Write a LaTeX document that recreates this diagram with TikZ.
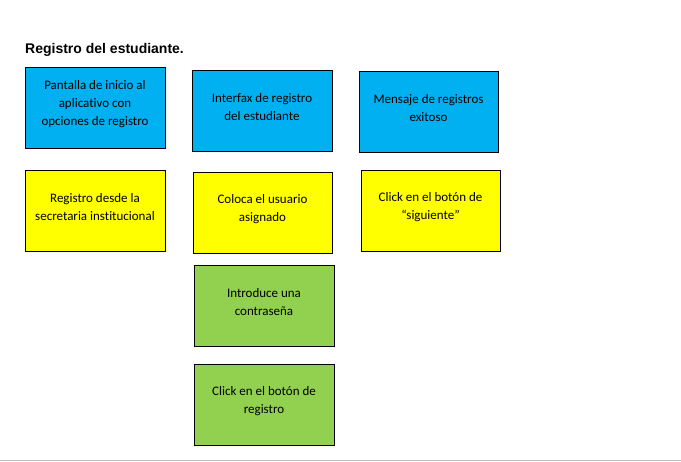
\documentclass[tikz,border=0pt]{standalone}
\usepackage{fontspec}
\setmainfont{Carlito}[Ligatures={NoCommon}]
\newfontfamily\titlefont{Liberation Sans}
\usepackage{tikz}
\definecolor{cblue}{RGB}{0, 176, 240}
\definecolor{cyellow}{RGB}{255, 255, 0}
\definecolor{cgreen}{RGB}{146, 208, 80}
\definecolor{cline}{RGB}{191, 191, 191}
\begin{document}
\begin{tikzpicture}[x=1pt, y=1pt,
  box/.style={rectangle, minimum width=140pt, minimum height=81pt, inner sep=0pt, line width=0.9pt, draw=black},
  boxtext/.style={align=center, yshift=3.5pt, font=\fontsize{13}{18}\selectfont},
  blue/.style={box, fill=cblue},
  yellow/.style={box, fill=cyellow},
  green/.style={box, fill=cgreen}]
\useasboundingbox (0, 0) rectangle (681, -462);
\node (title) [anchor=base west, inner sep=0pt, font=\titlefont\bfseries\fontsize{14}{16}\selectfont] at (25, -53.3) {Registro del estudiante.};
\node (inicio) [blue, label={[boxtext]center:Pantalla de inicio al\\aplicativo con\\opciones de registro}] at (95, -107.5) {};
\node (interfaz) [blue, label={[boxtext]center:Interfax de registro\\del estudiante}] at (262, -110.5) {};
\node (mensaje) [blue, minimum width=139pt, label={[boxtext]center:Mensaje de registros\\exitoso}] at (428.5, -111.5) {};
\node (secretaria) [yellow, label={[boxtext]center:Registro desde la\\secretaria institucional}] at (95, -210.5) {};
\node (usuario) [yellow, minimum width=139pt, label={[boxtext]center:Coloca el usuario\\asignado}] at (262.5, -212.5) {};
\node (siguiente) [yellow, minimum width=139pt, label={[boxtext]center:Click en el botón de\\“siguiente”}] at (430.5, -210.5) {};
\node (clave) [green, label={[boxtext]center:Introduce una\\contraseña}] at (264, -306) {};
\node (boton) [green, label={[boxtext]center:Click en el botón de\\registro}] at (264, -404.5) {};
\draw [line width=1pt, color=cline] (0, -461) -- (681, -461);
\end{tikzpicture}
\end{document}
